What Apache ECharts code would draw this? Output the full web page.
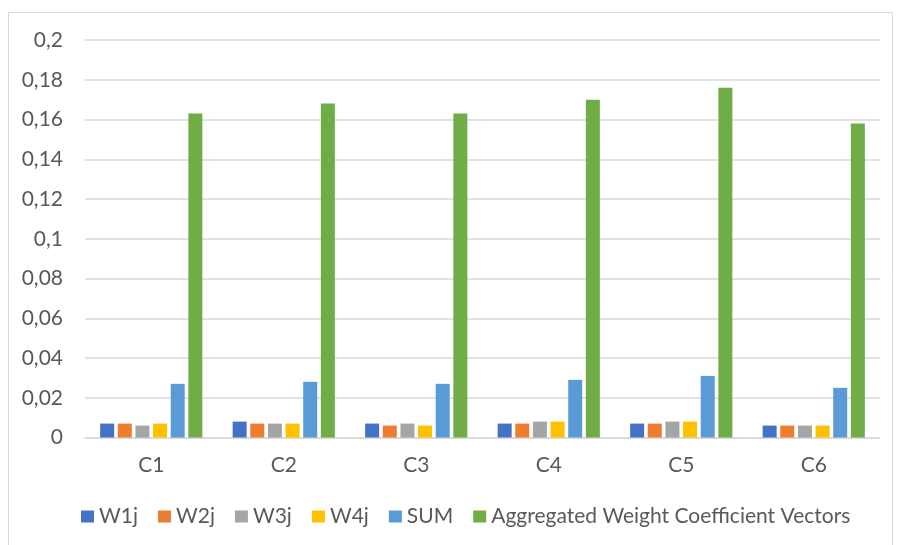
<!DOCTYPE html>
<html>
<head>
<meta charset="utf-8">
<script src="https://cdn.jsdelivr.net/npm/echarts@6/dist/echarts.min.js"></script>
<style>
html,body{margin:0;padding:0;background:#fff;}
#chart{width:897px;height:545px;}
</style>
</head>
<body>
<div id="chart"></div>
<script>
var categories = ['C1', 'C2', 'C3', 'C4', 'C5', 'C6'];
var w1j = [0.007, 0.008, 0.007, 0.007, 0.007, 0.006];
var w2j = [0.007, 0.007, 0.006, 0.007, 0.007, 0.006];
var w3j = [0.006, 0.007, 0.007, 0.008, 0.008, 0.006];
var w4j = [0.007, 0.007, 0.006, 0.008, 0.008, 0.006];
var sumVals = [0.027, 0.028, 0.027, 0.029, 0.031, 0.025];
var aggregated = [0.163, 0.168, 0.163, 0.170, 0.176, 0.158];
var seriesNames = ['W1j', 'W2j', 'W3j', 'W4j', 'SUM', 'Aggregated Weight Coefficient Vectors'];
var seriesColors = ['#4472C4', '#ED7D31', '#A5A5A5', '#FFC000', '#5B9BD5', '#70AD47'];
var seriesData = [w1j, w2j, w3j, w4j, sumVals, aggregated];

var fontFam = 'Lato, "Open Sans", sans-serif';
var chart = echarts.init(document.getElementById('chart'));
var series = seriesNames.map(function (n, i) {
  return {
    name: n,
    type: 'bar',
    data: seriesData[i],
    barWidth: 14,
    barGap: '26%',
    itemStyle: { color: seriesColors[i] }
  };
});
chart.setOption({
  animation: false,
  graphic: [{
    type: 'rect',
    shape: { x: 8.5, y: 12.5, width: 884, height: 540 },
    style: { fill: 'none', stroke: '#d9d9d9', lineWidth: 1 },
    silent: true
  }],
  legend: {
    data: seriesNames,
    left: 76,
    bottom: 13,
    itemWidth: 13,
    itemHeight: 12,
    itemGap: 20,
    icon: 'rect',
    textStyle: { color: '#595959', fontSize: 21, fontFamily: fontFam }
  },
  grid: { left: 85, right: 17, top: 40, bottom: 107.5, containLabel: false },
  xAxis: {
    type: 'category',
    data: categories,
    axisLine: { lineStyle: { color: '#d9d9d9', width: 1.5 } },
    axisTick: { show: false },
    axisLabel: { color: '#595959', fontSize: 21, fontFamily: fontFam, margin: 17 }
  },
  yAxis: {
    type: 'value',
    min: 0,
    max: 0.2,
    interval: 0.02,
    axisLine: { show: false },
    axisTick: { show: false },
    splitLine: { lineStyle: { color: '#d9d9d9', width: 1.5 } },
    axisLabel: {
      color: '#595959', fontSize: 21, fontFamily: fontFam, margin: 22,
      formatter: function (v) { return String(parseFloat(v.toFixed(2))).replace('.', ','); }
    }
  },
  series: series
});
</script>
</body>
</html>
